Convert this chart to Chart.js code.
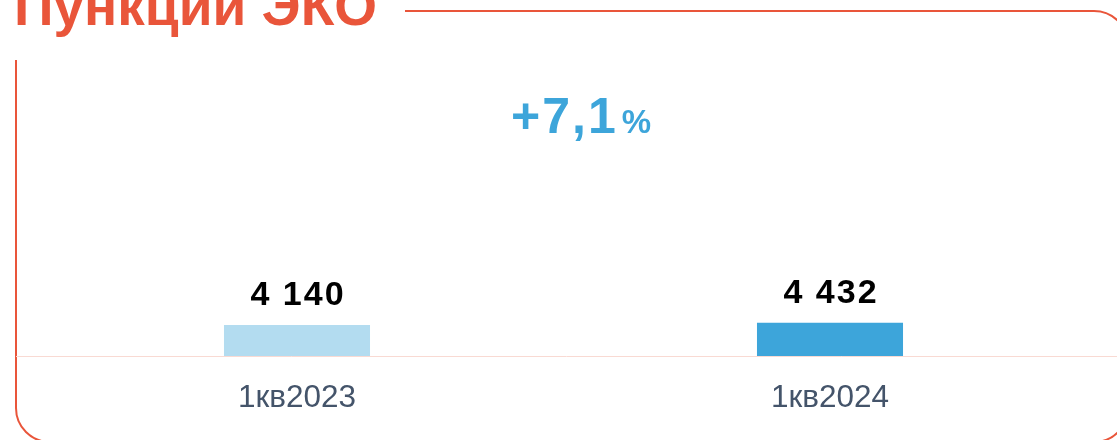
<!DOCTYPE html>
<html><head><meta charset="utf-8">
<script src="https://cdn.jsdelivr.net/npm/chart.js@4.4.1/dist/chart.umd.min.js"></script>
<style>
html,body{margin:0;padding:0;background:#fff;overflow:hidden}
#wrap{position:relative;width:1117px;height:440px;overflow:hidden;background:#fff}
#frame{position:absolute;left:14.5px;top:9.5px;width:1114px;height:433px;border:2.5px solid #E9553A;border-radius:35px;box-sizing:border-box}
#c{position:absolute;left:0;top:0}
#titlebox{position:absolute;left:0;top:0;width:405px;height:60px;background:#fff}
#title{position:absolute;left:14px;top:6px;height:0;margin:0;font:bold 55px "Liberation Sans",Arial,sans-serif;line-height:0;color:#E9553A;white-space:nowrap}
</style></head>
<body>
<div id="wrap">
  <div id="frame"></div>
  <canvas id="c" width="1117" height="440"></canvas>
  <div id="titlebox"><div id="title"></div></div>
</div>
<script>
const titleText = 'Пункции ЭКО';
const categories = ['1кв2023', '1кв2024'];
const values = [4140, 4432];
const barColors = ['#B3DCF0', '#3DA5DA'];
const changeLabel = '+7,1';
const changeUnit = '%';

document.getElementById('title').textContent = titleText;

const fmt = v => String(v).replace(/\B(?=(\d{3})+(?!\d))/g, ' ');

const decor = {
  id: 'decor',
  beforeDatasetsDraw(chart) {
    const ctx = chart.ctx;
    const y0 = Math.round(chart.scales.y.getPixelForValue(0)) + 0.5;
    ctx.save();
    ctx.strokeStyle = '#F9DAD3';
    ctx.lineWidth = 1;
    ctx.beginPath();
    ctx.moveTo(16, y0);
    ctx.lineTo(chart.width, y0);
    ctx.stroke();
    ctx.restore();
  },
  afterDatasetsDraw(chart) {
    const ctx = chart.ctx;
    const meta = chart.getDatasetMeta(0);
    ctx.save();
    ctx.fillStyle = '#000';
    ctx.font = 'bold 34px "Liberation Sans", Arial, sans-serif';
    ctx.letterSpacing = '2px';
    ctx.textAlign = 'center';
    ctx.textBaseline = 'alphabetic';
    meta.data.forEach((bar, i) => {
      ctx.fillText(fmt(values[i]), bar.x + 1, bar.y - 20);
    });
    // change label
    ctx.fillStyle = '#3DA5DA';
    ctx.textAlign = 'left';
    ctx.font = 'bold 50px "Liberation Sans", Arial, sans-serif';
    const x0 = 511, yb = 133;
    ctx.fillText(changeLabel, x0, yb);
    const w = ctx.measureText(changeLabel).width;
    ctx.font = 'bold 33px "Liberation Sans", Arial, sans-serif';
    ctx.fillText(changeUnit, x0 + w + 4, yb);
    ctx.restore();
  }
};

new Chart(document.getElementById('c'), {
  type: 'bar',
  data: {
    labels: categories,
    datasets: [{
      data: values,
      backgroundColor: barColors,
      borderWidth: 0,
      barPercentage: 0.274,
      categoryPercentage: 1
    }]
  },
  options: {
    responsive: false,
    animation: false,
    layout: { padding: { left: 30.5, right: 20.5, top: 56, bottom: 0 } },
    plugins: { legend: { display: false }, tooltip: { enabled: false } },
    scales: {
      x: {
        grid: { display: false, drawTicks: false },
        border: { display: false },
        ticks: { color: '#44546A', font: { family: '"Liberation Sans", Arial, sans-serif', size: 31.5 }, padding: 23 },
        afterFit(s) { s.height = 84; }
      },
      y: { display: false, min: 0, max: 40000 }
    }
  },
  plugins: [decor]
});
</script>
</body></html>
